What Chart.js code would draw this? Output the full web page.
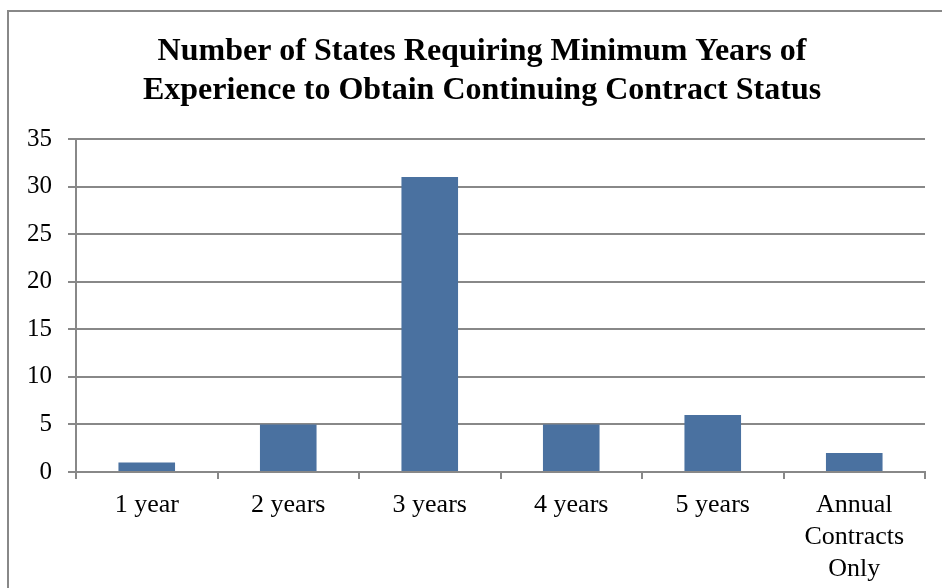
<!DOCTYPE html>
<html>
<head>
<meta charset="utf-8">
<script src="https://cdn.jsdelivr.net/npm/chart.js@4/dist/chart.umd.min.js"></script>
<style>
  html, body { margin: 0; padding: 0; background: #fff; }
  #wrap { position: relative; width: 942px; height: 588px; overflow: hidden; }
  #frame { position: absolute; left: 7px; top: 10px; width: 1000px; height: 700px;
           border-left: 2px solid #888; border-top: 2px solid #888; }
  canvas { position: absolute; left: 0; top: 0; }
</style>
</head>
<body>
<div id="wrap">
  <div id="frame"></div>
  <canvas id="myChart" width="942" height="588"></canvas>
</div>
<script>
// values
const categories = ['1 year', '2 years', '3 years', '4 years', '5 years', ['Annual', 'Contracts', 'Only']];
const states = [1, 5, 31, 5, 6, 2];
const yTicks = [0, 5, 10, 15, 20, 25, 30, 35];
const chartTitle = ['Number of States Requiring Minimum Years of', 'Experience to Obtain Continuing Contract Status'];

const serif = "'Liberation Serif', 'Times New Roman', serif";
const gray = '#888888';

// the original frame is wider than the picture, so its title sits a bit right of
// the plot centre; the built-in title can't do that, so draw it here
const frameTitle = {
  id: 'frameTitle',
  afterDraw(chart) {
    const c = chart.ctx;
    c.save();
    c.font = 'bold 32px ' + serif;
    c.fillStyle = '#000';
    c.textAlign = 'center';
    c.textBaseline = 'middle';
    chartTitle.forEach((line, i) => c.fillText(line, 482, 52 + 38.5 * i));
    c.restore();
  }
};

window.addEventListener('load', setup);

function setup() {
  const ctx = document.getElementById('myChart').getContext('2d');

  new Chart(ctx, {
    type: 'bar',
    data: {
      labels: categories,
      datasets: [{
        label: 'States',
        data: states,
        backgroundColor: '#4a71a0',
        borderWidth: 0,
        categoryPercentage: 0.8,
        barPercentage: 0.5
      }]
    },
    options: {
      responsive: false,
      animation: false,
      layout: { padding: { left: 10, right: 17, top: 139, bottom: 0 } },
      plugins: {
        legend: { display: false },
        tooltip: { enabled: false },
        title: { display: false }
      },
      scales: {
        x: {
          offset: true,
          afterFit: s => { s.height = 116; },
          grid: { drawOnChartArea: false, drawTicks: true, tickLength: 7, color: gray, lineWidth: 2 },
          border: { display: true, color: gray, width: 2 },
          ticks: {
            color: '#000',
            padding: 10,
            maxRotation: 0,
            autoSkip: false,
            font: { family: serif, size: 26, lineHeight: 1.23 }
          }
        },
        y: {
          min: 0,
          max: 35,
          afterFit: s => { s.width = 66; },
          afterBuildTicks: s => { s.ticks = yTicks.map(v => ({ value: v })); },
          grid: { color: gray, lineWidth: 2, tickLength: 8 },
          border: { display: true, color: gray, width: 2 },
          ticks: {
            color: '#000',
            padding: 16,
            font: { family: serif, size: 25 }
          }
        }
      }
    },
    plugins: [frameTitle]
  });
}
</script>
</body>
</html>
